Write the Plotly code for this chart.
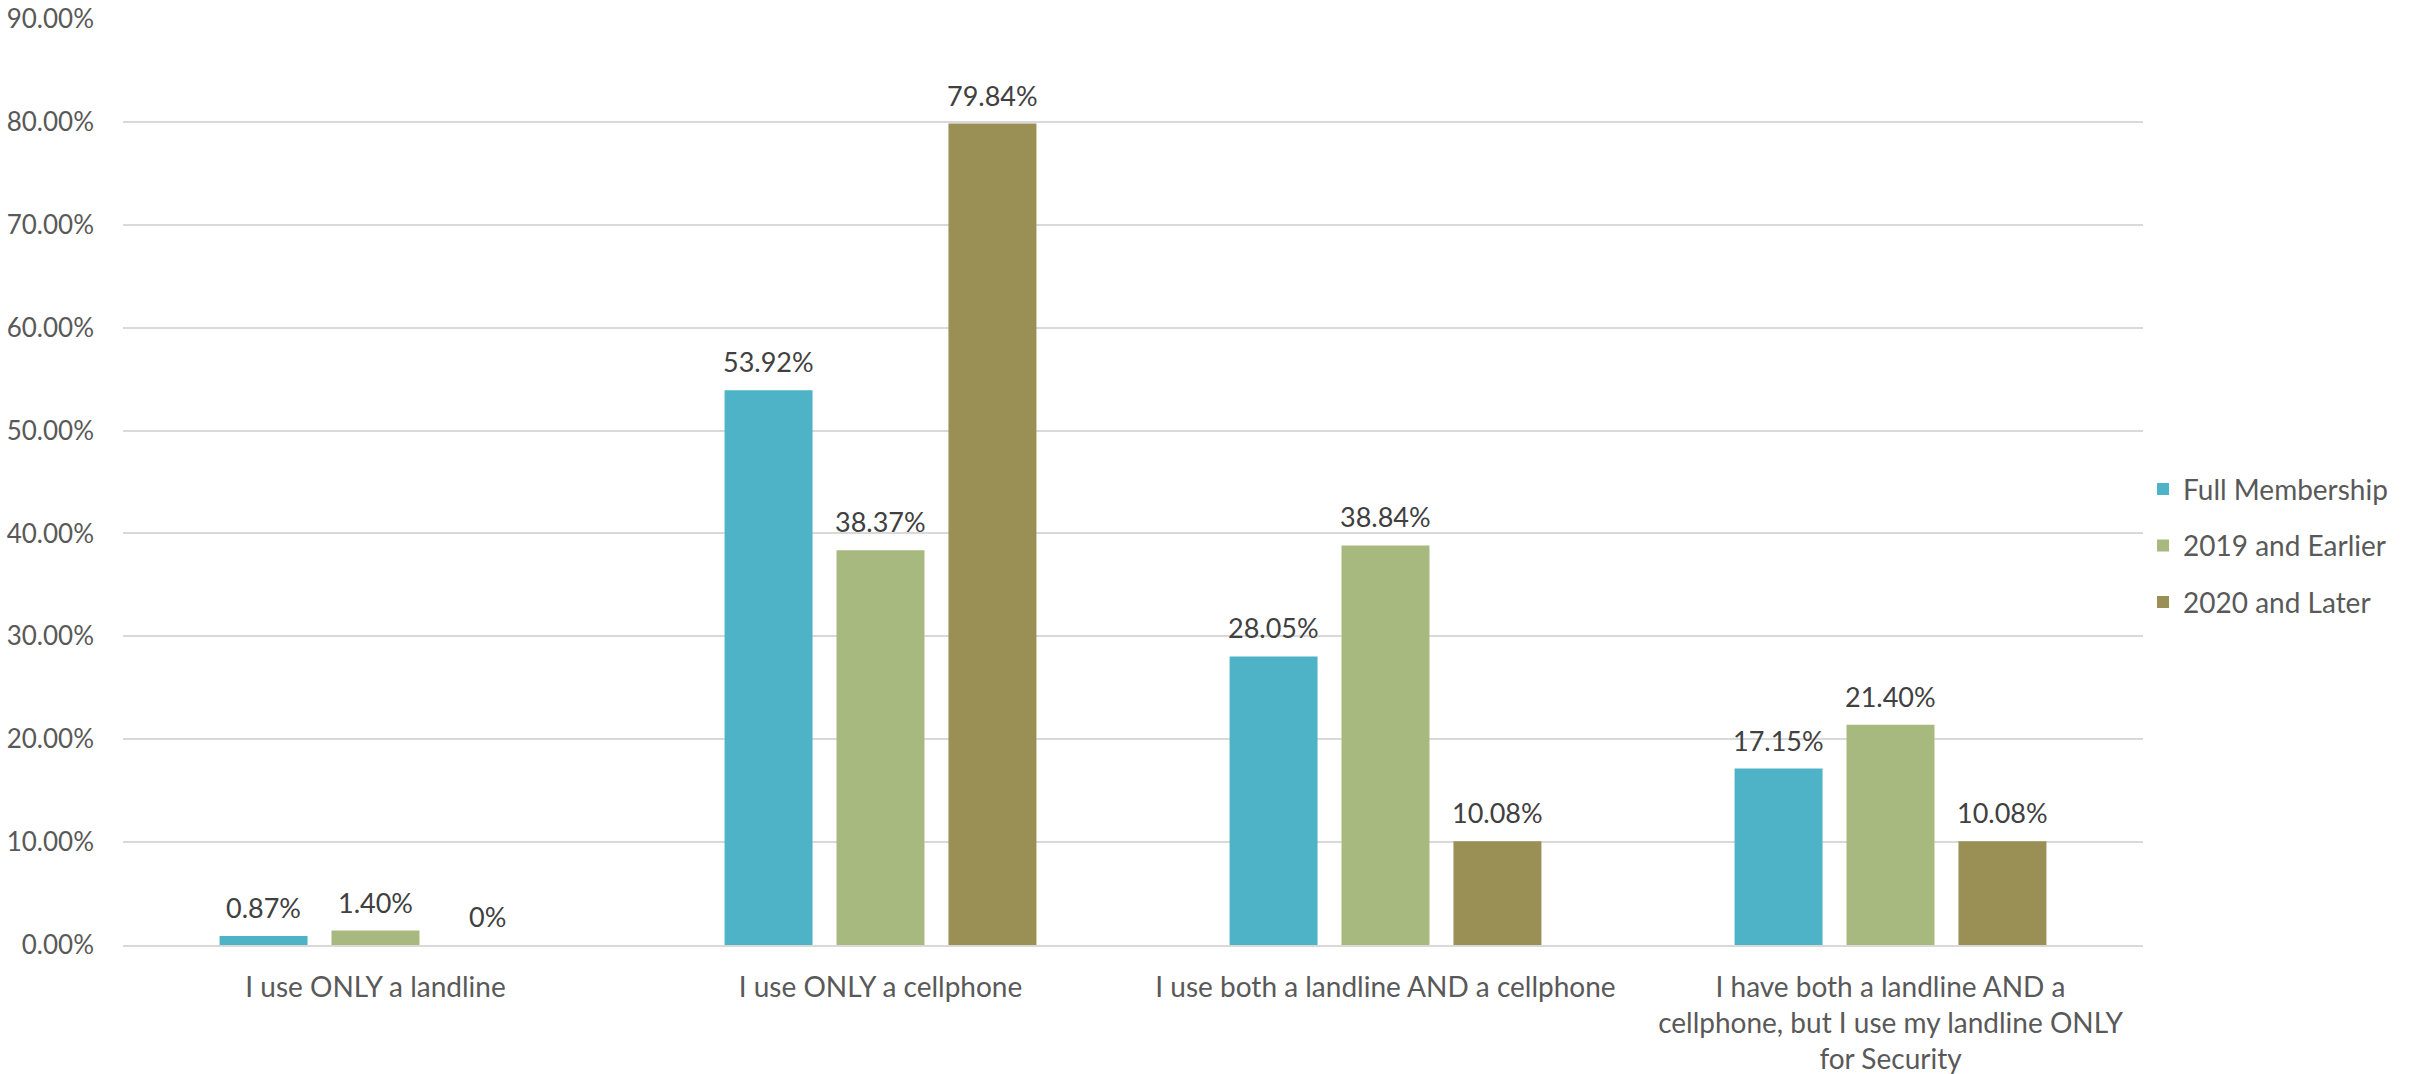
import plotly.graph_objects as go

categories = [
    "I use ONLY a landline",
    "I use ONLY a cellphone",
    "I use both a landline AND a cellphone",
    "I have both a landline AND a<br>cellphone, but I use my landline ONLY<br>for Security",
]
series_names = ["Full Membership", "2019 and Earlier", "2020 and Later"]
full_membership = [0.87, 53.92, 28.05, 17.15]
earlier_2019 = [1.40, 38.37, 38.84, 21.40]
later_2020 = [0.00, 79.84, 10.08, 10.08]
colors = ["#4FB3C8", "#A7B97F", "#9A9055"]
y_ticks = [0, 10, 20, 30, 40, 50, 60, 70, 80, 90]

FONT = "Lato, 'Open Sans', sans-serif"
TXT = "#595959"

def fmt(v):
    return "0%" if v == 0 else f"{v:.2f}%"

fig = go.Figure()
all_series = [full_membership, earlier_2019, later_2020]
for i, (name, vals, col) in enumerate(zip(series_names, all_series, colors)):
    fig.add_trace(go.Bar(
        name=name, x=categories, y=vals, marker_color=col,
        marker_line_width=0, legendgroup=f"g{i}",
        offsetgroup=str(i),
        cliponaxis=False,
    ))

# data labels as annotations positioned via data coordinates
for i, vals in enumerate(all_series):
    for j, v in enumerate(vals):
        fig.add_annotation(
            x=categories[j], y=v, xref="x", yref="y",
            text=fmt(v), showarrow=False, yanchor="bottom",
            xshift=(i - 1) * 112, yshift=10,
            font=dict(family=FONT, size=27, color="#404040"),
        )

fig.update_layout(
    width=2412, height=1074,
    paper_bgcolor="white", plot_bgcolor="white",
    margin=dict(l=123, r=269, t=19, b=129, autoexpand=False),
    barmode="group", bargap=0.335, bargroupgap=0.214,
    font=dict(family=FONT, size=27, color=TXT),
    legend=dict(
        x=1.0, xanchor="left", y=0.431, yanchor="middle",
        font=dict(family=FONT, size=28, color=TXT),
        itemwidth=30, tracegroupgap=17, traceorder="grouped",
        bgcolor="rgba(0,0,0,0)",
    ),
    showlegend=True,
)
fig.update_yaxes(
    range=[0, 90], tickvals=y_ticks,
    ticktext=[f"{v:.2f}%" for v in y_ticks],
    showgrid=True, gridcolor="#D9D9D9", gridwidth=2,
    zeroline=False, showline=False, ticks="",
    tickfont=dict(family=FONT, size=26, color=TXT),
    ticklabelstandoff=28, automargin=False,
)
fig.update_xaxes(
    showline=True, linecolor="#D9D9D9", linewidth=2,
    ticks="", tickfont=dict(family=FONT, size=28, color=TXT),
    tickangle=0, ticklabelstandoff=16, automargin=False,
)

fig.write_html("out.html")
